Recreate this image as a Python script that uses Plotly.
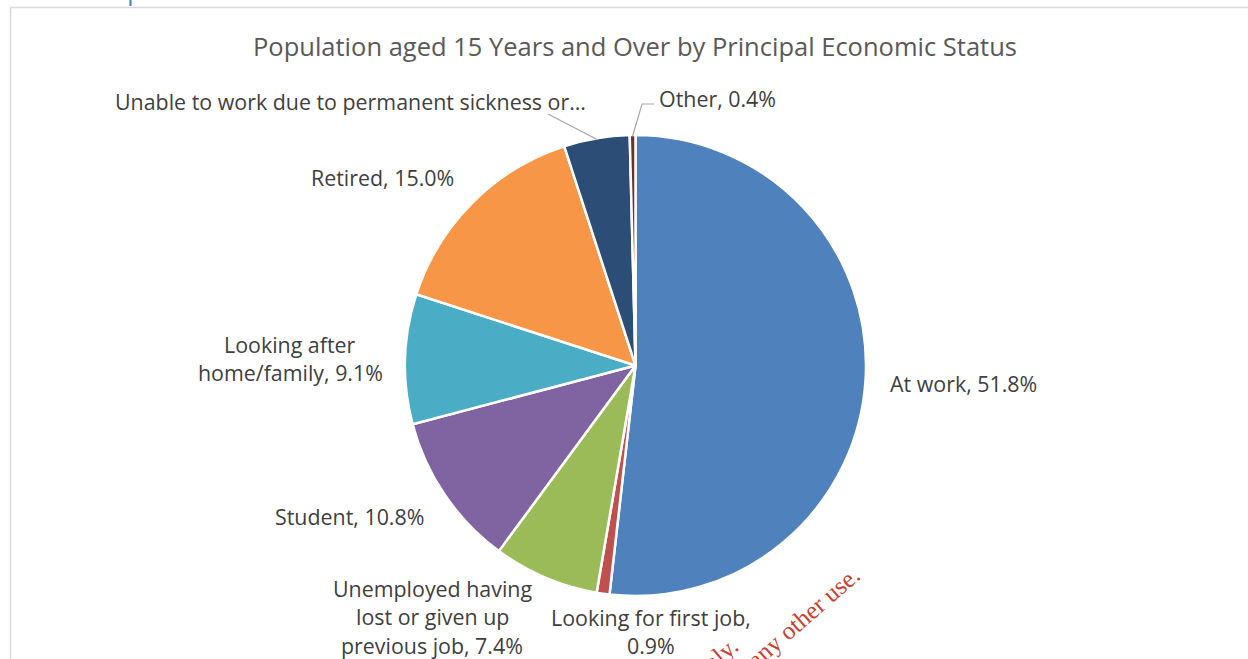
import math
import plotly.graph_objects as go

W, H = 1248, 659

# Principal economic status, share of population aged 15+ (%)
categories = [
    "At work",
    "Looking for first job",
    "Unemployed having lost or given up previous job",
    "Student",
    "Looking after home/family",
    "Retired",
    "Unable to work due to permanent sickness or disability",
    "Other",
]
shares = [51.8, 0.9, 7.4, 10.8, 9.1, 15.0, 4.6, 0.4]
colors = ["#4F81BD", "#C0504D", "#9BBB59", "#8064A2", "#4BACC6",
          "#F79646", "#2C4D75", "#772C2A"]

title_text = "Population aged 15 Years and Over by Principal Economic Status"

# pie geometry in pixels
CX, CY, R = 635.5, 365.5, 230.5

LABEL_FONT = "Open Sans"
LABEL_SIZE = 21.4
LABEL_COLOR = "#404040"
LINE_H = 28.5


def px(x):
    return x / W


def py(y):
    return 1 - y / H


# label layout: lines (with {v} placeholder), anchor x, first-line y, xanchor
label_layout = {
    "At work": (["At work, {v}"], 888, 383, "left"),
    "Looking for first job": (["Looking for first job,", "{v}"], 651, 617, "center"),
    "Unemployed having lost or given up previous job": (
        ["Unemployed having", "lost or given up", "previous job, {v}"], 432, 588, "center"),
    "Student": (["Student, {v}"], 349, 516, "center"),
    "Looking after home/family": (["Looking after", "home/family, {v}"], 290, 344, "center"),
    "Retired": (["Retired, {v}"], 382, 178, "center"),
    "Unable to work due to permanent sickness or disability": (
        ["Unable to work due to permanent sickness or…"], 350, 101, "center"),
    "Other": (["Other, {v}"], 657, 98, "left"),
}

fig = go.Figure()
fig.add_trace(go.Pie(
    labels=categories,
    values=shares,
    sort=False,
    direction="clockwise",
    rotation=0,
    marker=dict(colors=colors, line=dict(color="white", width=2.5)),
    textinfo="none",
    hoverinfo="skip",
    showlegend=False,
    domain=dict(x=[px(CX - R), px(CX + R)], y=[py(CY + R), py(CY - R)]),
))

annotations = []
for name, val in zip(categories, shares):
    lines, lx, ly, xa = label_layout[name]
    for i, ln in enumerate(lines):
        annotations.append(dict(
            x=px(lx), y=py(ly + i * LINE_H), xref="paper", yref="paper",
            text=ln.format(v=f"{val:.1f}%"), showarrow=False,
            xanchor=xa, yanchor="middle",
            font=dict(family=LABEL_FONT, size=LABEL_SIZE, color=LABEL_COLOR),
        ))

# chart title
annotations.append(dict(
    x=px(635), y=py(46), xref="paper", yref="paper", text=title_text,
    showarrow=False, xanchor="center", yanchor="middle",
    font=dict(family=LABEL_FONT, size=25.5, color="#595959"),
))

# section heading running off the top edge
annotations.append(dict(
    x=px(60), y=py(-10), xref="paper", yref="paper",
    text="Principal Economic Status", showarrow=False,
    xanchor="left", yanchor="middle",
    font=dict(family=LABEL_FONT, size=25, color="#4F81BD"),
))

# watermark
WM_COLOR = "#C9402F"
annotations.append(dict(
    x=px(773), y=py(643), xref="paper", yref="paper",
    text="Not for any other use.", showarrow=False, textangle=-41,
    xanchor="center", yanchor="middle",
    font=dict(family="Liberation Serif", size=25, color=WM_COLOR),
))
annotations.append(dict(
    x=px(648), y=py(718), xref="paper", yref="paper",
    text="For reference use only.", showarrow=False, textangle=-41,
    xanchor="center", yanchor="middle",
    font=dict(family="Liberation Serif", size=25, color=WM_COLOR),
))


def rim_point(frac_mid):
    ang = 2 * math.pi * frac_mid
    return CX + R * math.sin(ang), CY - R * math.cos(ang)


total = sum(shares)
cum = 0.0
mids = {}
for name, val in zip(categories, shares):
    mids[name] = (cum + val / 2) / total
    cum += val

shapes = []
LEADER = dict(color="#A6A6A6", width=1.2)
# leader for "Unable to work..."
ux, uy = rim_point(mids[categories[6]])
shapes.append(dict(type="line", xref="paper", yref="paper",
                   x0=px(548), y0=py(114), x1=px(ux), y1=py(uy + 1), line=LEADER))
# leader for "Other"
ox, oy = rim_point(mids[categories[7]])
shapes.append(dict(type="path", xref="paper", yref="paper",
                   path=f"M {px(654)} {py(104)} L {px(642)} {py(104)} L {px(ox)} {py(oy + 1)}",
                   line=LEADER))

# chart frame (top and left edges)
FRAME = dict(color="#D9D9D9", width=1.5)
shapes.append(dict(type="line", xref="paper", yref="paper",
                   x0=px(10.5), y0=py(7.5), x1=1.0, y1=py(7.5), line=FRAME))
shapes.append(dict(type="line", xref="paper", yref="paper",
                   x0=px(10.5), y0=py(7.5), x1=px(10.5), y1=0.0, line=FRAME))

fig.update_layout(
    width=W, height=H,
    margin=dict(l=0, r=0, t=0, b=0),
    paper_bgcolor="white",
    plot_bgcolor="white",
    annotations=annotations,
    shapes=shapes,
)

fig.write_html("out.html")
